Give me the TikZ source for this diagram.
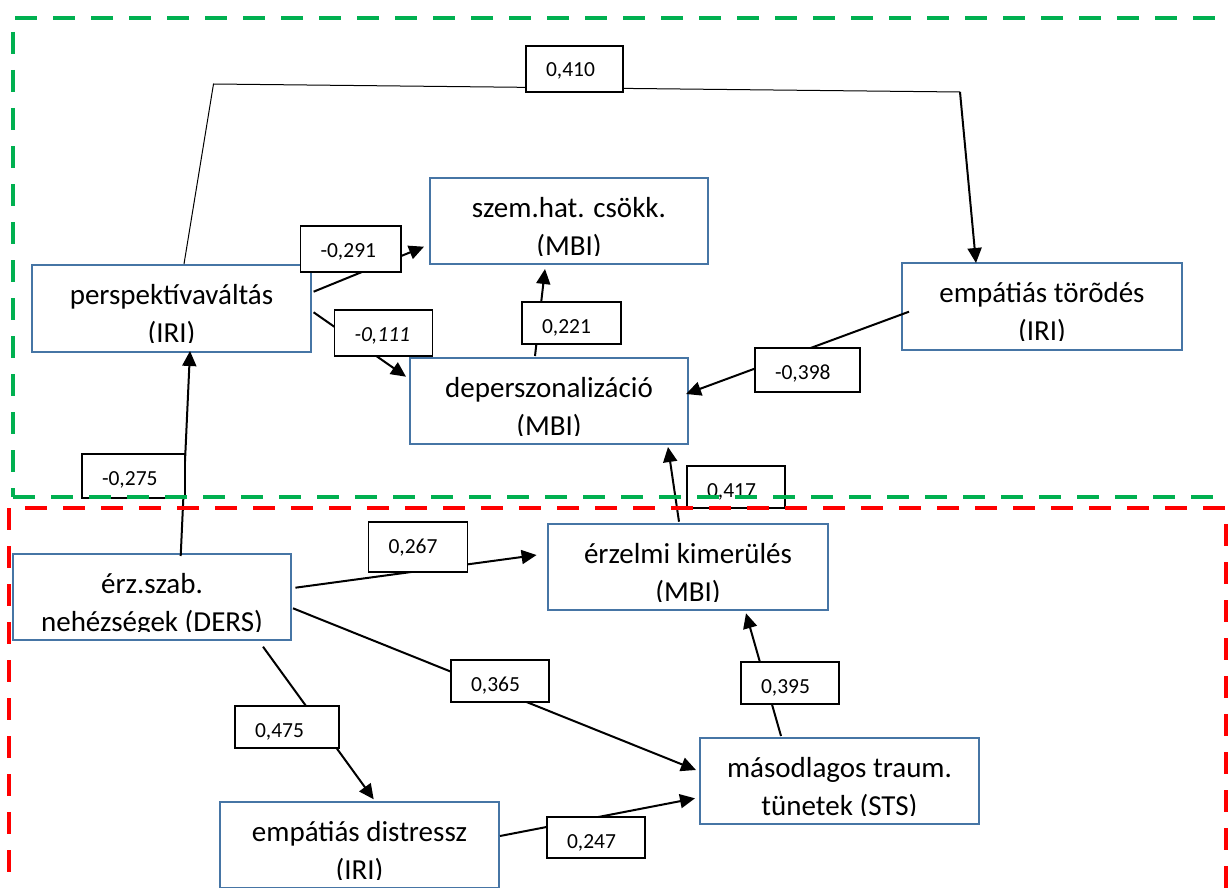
\documentclass[tikz,border=0pt]{standalone}
\usepackage{fontspec}
\setmainfont{Carlito}
\usetikzlibrary{arrows.meta}

\definecolor{boxblue}{RGB}{70,117,165}
\definecolor{framegreen}{RGB}{0,176,80}
\definecolor{framered}{RGB}{255,0,0}

\tikzset{
  bluebox/.style={rectangle, draw=boxblue, line width=2pt, fill=white, inner sep=0pt, outer sep=0pt},
  boxtext/.style={anchor=base, inner sep=0pt, outer sep=0pt, font=\fontsize{29}{35}\selectfont},
  numbox/.style={rectangle, draw=black, line width=1.5pt, fill=white, inner sep=0pt, outer sep=0pt},
  numtext/.style={anchor=base west, inner sep=0pt, outer sep=0pt, font=\fontsize{21.5}{26}\selectfont},
  link/.style={line width=2pt, -{Triangle[length=15pt,width=14pt]}},
  thinlink/.style={line width=1pt},
  greenframe/.style={draw=framegreen, line width=4.5pt, dash pattern=on 22pt off 16pt},
  redframe/.style={draw=framered, line width=4.5pt, dash pattern=on 22pt off 16pt},
}

% variable box: name, centre x, centre y, width, height, first line, second line
% (the second line is cut off at its baseline by the inner margin of the box)
\newcommand\BlueBox[7]{%
  \node[bluebox, minimum width=#4pt, minimum height=#5pt] (#1) at (#2,#3) {};
  \begin{scope}
    \clip ([shift={(2,2)}]#1.north west) rectangle ([shift={(-2,77.5)}]#1.north east);
    \node[boxtext] (#1-a) at ([yshift=-39pt]#1.north) {#6};
    \node[boxtext] (#1-b) at ([yshift=-77pt]#1.north) {#7};
  \end{scope}}

% coefficient label: name, centre x, centre y, width, height, text
\newcommand\NumLabel[6]{%
  \node[numbox, minimum width=#4pt, minimum height=#5pt] (#1) at (#2,#3) {};
  \node[numtext] (#1-t) at ([shift={(20,31)}]#1.north west) {#6};}

\begin{document}
\begin{tikzpicture}[x=1pt,y=-1pt]
\useasboundingbox (0,0) rectangle (1228,888);

% variables
\BlueBox{persp}{171.5}{308.5}{279}{87}{perspektívaváltás}{(IRI)}
\BlueBox{szem}{569}{221}{278}{86}{szem.hat. csökk.}{(MBI)}
\BlueBox{depersz}{549}{401}{278}{86}{deperszonalizáció}{(MBI)}
\BlueBox{emptor}{1042}{306.5}{280}{87}{empátiás törõdés}{(IRI)}
\BlueBox{erz}{152}{597}{278}{86}{érz.szab.}{nehézségek (DERS)}
\BlueBox{kimer}{688}{567}{280}{86}{érzelmi kimerülés}{(MBI)}
\BlueBox{distr}{359.5}{845}{279}{86}{empátiás distressz}{(IRI)}
\BlueBox{masod}{839.5}{781}{279}{86}{másodlagos traum.}{tünetek (STS)}

% paths
\coordinate (bendA) at (213.5,84);
\coordinate (bendB) at (960,92);
\draw[thinlink] ([shift={(12.5,-1)}]persp.north) -- (bendA) -- (bendB);
\draw[link] (bendB) -- ([shift={(-66,0)}]emptor.north);

\draw[link] ([shift={(2.6,-16.8)}]persp.east) -- ([shift={(-6,25.7)}]szem.west);
\draw[link] ([shift={(2.6,3.8)}]persp.east) -- ([shift={(-4,-24.3)}]depersz.west);
\draw[link] ([shift={(-14,-2)}]depersz.north) -- ([shift={(-24,5)}]szem.south);
\draw[link] ([shift={(7,5.2)}]emptor.west) -- ([shift={(-2,-7)}]depersz.east);
\draw[link] ([shift={(28.7,2)}]erz.north) -- ([shift={(18.5,-1)}]persp.south);
\draw[link] ([shift={(4.4,-9.3)}]erz.east) -- ([shift={(-11.4,-12)}]kimer.west);
\draw[link] ([shift={(2,11.3)}]erz.east) -- ([shift={(-4,-11)}]masod.west);
\draw[link] ([shift={(111,6.7)}]erz.south) -- ([shift={(14.2,-2.7)}]distr.north);
\draw[link] ([shift={(1,-9)}]distr.east) -- ([shift={(-5,17.3)}]masod.west);
\draw[link] ([shift={(-58.5,-2)}]masod.north) -- ([shift={(58,3.3)}]kimer.south);
\draw[link] ([shift={(-9,-2.3)}]kimer.north) -- ([shift={(119,3)}]depersz.south);

% coefficients
\NumLabel{k410}{574.5}{69}{97}{46}{0,410}
\NumLabel{k291}{350.75}{249}{100.5}{46}{-0,291}
\NumLabel{k111}{383.55}{333}{98.1}{46}{\itshape -0,111}
\NumLabel{k221}{571.5}{323}{99}{42}{0,221}
\NumLabel{k398}{807.5}{370}{105}{44}{-0,398}
\NumLabel{k275}{133.5}{476}{103}{44}{-0,275}
\NumLabel{k417}{736}{487}{98}{42}{0,417}
\NumLabel{k267}{417.95}{547}{98.9}{50}{0,267}
\NumLabel{k365}{500}{681}{98}{42}{0,365}
\NumLabel{k475}{287}{727}{104}{42}{0,475}
\NumLabel{k395}{790}{683}{98}{42}{0,395}
\NumLabel{k247}{596}{837.5}{98}{41}{0,247}

% group frames
\draw[greenframe, dash phase=36pt] (13,18) -- (1240,18);
\draw[greenframe, dash phase=24pt] (13,18) -- (13,497);
\draw[greenframe] (13,497) -- (1240,497);
\draw[redframe, dash phase=22pt] (9,508) -- (1240,508);
\draw[redframe] (9,508) -- (9,900);
\draw[redframe, dash phase=22pt] (1226,508) -- (1226,900);
\end{tikzpicture}
\end{document}
